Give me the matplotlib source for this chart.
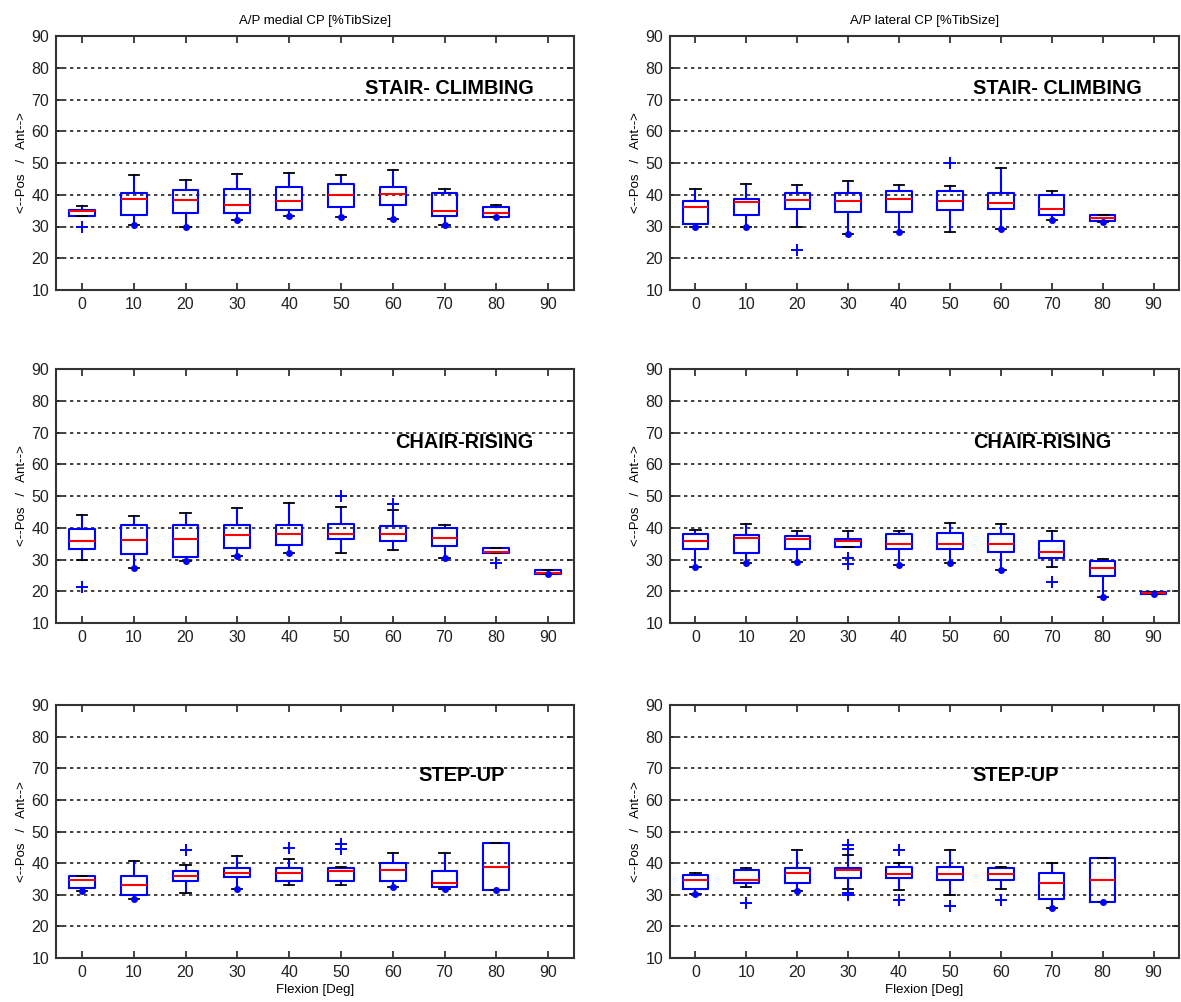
import matplotlib
matplotlib.use("Agg")
import matplotlib.pyplot as plt

plt.rcParams['font.family'] = ['Liberation Sans', 'DejaVu Sans']

FLEXION = [0, 10, 20, 30, 40, 50, 60, 70, 80, 90]
COLUMN_TITLES = ["A/P medial CP [%TibSize]", "A/P lateral CP [%TibSize]"]
ROW_NAMES = ["STAIR- CLIMBING", "CHAIR-RISING", "STEP-UP"]

# ---- stair climbing, medial
med_stair_lo = [33.2, 30.6, 29.9, 31.9, 33.4, 32.9, 32.5, 30.6, 32.9]
med_stair_q1 = [33.2, 33.7, 34.1, 34.4, 35.3, 36.0, 36.8, 33.3, 32.9]
med_stair_med = [34.8, 38.7, 38.3, 36.8, 38.0, 40.0, 40.3, 34.8, 34.1]
med_stair_q3 = [35.3, 40.4, 41.5, 41.9, 42.3, 43.5, 42.3, 40.7, 36.0]
med_stair_hi = [36.4, 46.3, 44.6, 46.6, 46.9, 46.3, 47.8, 41.9, 36.7]
med_stair_out = [[29.8], [30.6], [29.9], [31.9], [33.4], [32.9], [32.5], [30.6], [32.9]]

# ---- stair climbing, lateral
lat_stair_lo = [30.0, 29.9, 29.8, 27.5, 28.2, 28.2, 29.1, 31.9, 31.5]
lat_stair_q1 = [30.7, 33.7, 35.6, 34.5, 34.5, 35.3, 35.6, 33.7, 31.7]
lat_stair_med = [36.0, 37.7, 38.3, 38.0, 38.7, 38.0, 37.3, 35.6, 32.8]
lat_stair_q3 = [38.0, 38.7, 40.4, 40.4, 41.1, 41.1, 40.7, 39.9, 33.7]
lat_stair_hi = [41.9, 43.5, 43.1, 44.2, 43.1, 42.6, 48.5, 41.1, 33.7]
lat_stair_out = [[30.0], [29.9], [22.7], [27.5], [28.2], [50.0], [29.1], [31.9], [31.5]]

# ---- chair rising, medial
med_chair_lo = [29.9, 27.3, 29.5, 31.1, 31.9, 32.1, 33.0, 30.6, 32.1, 25.5]
med_chair_q1 = [33.4, 31.8, 30.8, 33.6, 34.7, 36.3, 35.7, 34.4, 32.1, 25.5]
med_chair_med = [35.7, 36.1, 36.5, 37.7, 38.1, 38.1, 38.1, 36.8, 32.4, 25.9]
med_chair_q3 = [39.6, 40.8, 40.8, 40.8, 40.8, 41.3, 40.4, 40.0, 33.5, 26.7]
med_chair_hi = [43.9, 43.6, 44.7, 46.3, 47.9, 46.6, 45.5, 40.8, 33.7, 26.7]
med_chair_out = [[21.3], [27.3], [29.5], [31.1], [31.9], [50.0], [47.6], [30.6], [28.9], [25.5]]

# ---- chair rising, lateral
lat_chair_lo = [27.6, 28.9, 29.3, 34.0, 28.2, 28.9, 26.8, 27.6, 18.2, 19.2]
lat_chair_q1 = [33.4, 32.1, 33.4, 34.0, 33.4, 33.4, 32.5, 30.6, 24.8, 19.2]
lat_chair_med = [35.7, 36.8, 36.5, 35.7, 34.9, 34.9, 34.9, 32.5, 27.3, 19.5]
lat_chair_q3 = [38.1, 37.6, 37.3, 36.5, 38.1, 38.5, 38.1, 35.8, 29.5, 19.8]
lat_chair_hi = [39.2, 41.2, 38.9, 38.9, 38.9, 41.6, 41.2, 38.9, 30.3, 19.8]
lat_chair_out = [[27.6], [28.9], [29.3], [30.5, 28.7], [28.2], [28.9], [26.8], [22.9], [18.2], [19.2]]

# ---- step up, medial
med_step_lo = [31.2, 28.8, 30.7, 31.9, 33.1, 33.1, 32.3, 31.9, 31.5]
med_step_q1 = [32.1, 29.9, 34.4, 35.6, 34.2, 34.2, 34.2, 32.5, 31.5]
med_step_med = [34.6, 33.1, 35.8, 36.9, 36.9, 37.4, 37.8, 33.8, 38.8]
med_step_q3 = [35.8, 35.8, 37.4, 38.4, 38.4, 38.4, 40.0, 37.4, 46.3]
med_step_hi = [35.8, 40.8, 39.3, 42.4, 41.3, 38.8, 43.3, 43.3, 46.3]
med_step_out = [[31.2], [28.8], [44.1], [31.9], [44.7], [45.9, 44.5], [32.3], [31.9], [31.5]]

# ---- step up, lateral
lat_step_lo = [30.3, 32.5, 31.2, 31.9, 31.5, 30.0, 31.9, 25.8, 27.6]
lat_step_q1 = [31.7, 33.8, 33.8, 35.4, 35.4, 34.6, 34.6, 28.8, 27.6]
lat_step_med = [34.6, 34.6, 36.9, 37.7, 36.5, 36.5, 36.5, 33.8, 34.6]
lat_step_q3 = [36.1, 37.7, 38.4, 38.4, 38.8, 38.8, 38.4, 36.9, 41.6]
lat_step_hi = [36.9, 38.4, 44.3, 42.7, 40.0, 44.3, 38.8, 40.0, 41.6]
lat_step_out = [[30.3], [27.5], [31.2], [45.8, 44.4, 30.7, 29.8], [44.3, 28.3], [26.3], [28.3], [25.8], [27.6]]

PANELS = [
    [(med_stair_lo, med_stair_q1, med_stair_med, med_stair_q3, med_stair_hi, med_stair_out),
     (lat_stair_lo, lat_stair_q1, lat_stair_med, lat_stair_q3, lat_stair_hi, lat_stair_out)],
    [(med_chair_lo, med_chair_q1, med_chair_med, med_chair_q3, med_chair_hi, med_chair_out),
     (lat_chair_lo, lat_chair_q1, lat_chair_med, lat_chair_q3, lat_chair_hi, lat_chair_out)],
    [(med_step_lo, med_step_q1, med_step_med, med_step_q3, med_step_hi, med_step_out),
     (lat_step_lo, lat_step_q1, lat_step_med, lat_step_q3, lat_step_hi, lat_step_out)],
]

# label placement (axes fraction, left edge)
LABEL_POS = [[(0.597, 0.795), (0.595, 0.795)],
             [(0.655, 0.71), (0.595, 0.71)],
             [(0.70, 0.72), (0.595, 0.72)]]

W, H = 1181, 1002
fig = plt.figure(figsize=(W / 100, H / 100), dpi=100)

col_x = [(56, 574), (670, 1179)]
row_y = [(36, 290), (369, 623), (705, 958)]

BLUE = '#0000ff'
for r in range(3):
    for c in range(2):
        x0, x1 = col_x[c]
        y0, y1 = row_y[r]
        ax = fig.add_axes([x0 / W, 1 - y1 / H, (x1 - x0) / W, (y1 - y0) / H])
        lo, q1, med, q3, hi, out = PANELS[r][c]
        pos = FLEXION[:len(med)]
        stats = []
        dot_x, dot_y = [], []
        for i in range(len(med)):
            # outliers sitting right on the lower whisker end show as a small dot
            real = [v for v in out[i] if v != lo[i]]
            for v in out[i]:
                if v == lo[i]:
                    dot_x.append(pos[i])
                    dot_y.append(v)
            stats.append(dict(whislo=lo[i], q1=q1[i], med=med[i], q3=q3[i],
                              whishi=hi[i], fliers=real))
        ax.bxp(stats, positions=pos, widths=5, capwidths=2,
               showfliers=True,
               boxprops=dict(color=BLUE, lw=1.5),
               whiskerprops=dict(color=BLUE, lw=1.5, ls='-'),
               capprops=dict(color='black', lw=1.3),
               medianprops=dict(color='#ff0000', lw=1.5),
               flierprops=dict(marker='+', markeredgecolor=BLUE, markersize=9,
                               markeredgewidth=1.4, linestyle='none'))
        ax.plot(dot_x, dot_y, ls='none', marker='o', ms=4, color=BLUE, zorder=4)
        ax.set_xlim(-5, 95)
        ax.set_ylim(10, 90)
        ax.set_xticks(FLEXION)
        ax.set_xticklabels([str(v) for v in FLEXION])
        ax.set_yticks(range(10, 91, 10))
        for v in range(20, 90, 10):
            ax.axhline(v, color='#222222', lw=1.2, ls=(0, (2, 2.2)), zorder=0)
        ax.tick_params(direction='in', top=True, right=True, length=5, width=1.2,
                       labelsize=11.5, pad=5, colors='#222222')
        for sp in ax.spines.values():
            sp.set_linewidth(1.5)
            sp.set_color('#333333')
        ax.set_ylabel("<--Pos   /   Ant-->", fontsize=9.5, labelpad=2)
        if r == 0:
            ax.set_title(COLUMN_TITLES[c], fontsize=9.5, pad=9)
        if r == 2:
            ax.set_xlabel("Flexion [Deg]", fontsize=9.5, labelpad=3)
        lx, ly = LABEL_POS[r][c]
        ax.text(lx, ly, ROW_NAMES[r], transform=ax.transAxes, fontsize=14.3,
                fontweight='bold', ha='left', va='center')

fig.savefig("out.png", dpi=100)
